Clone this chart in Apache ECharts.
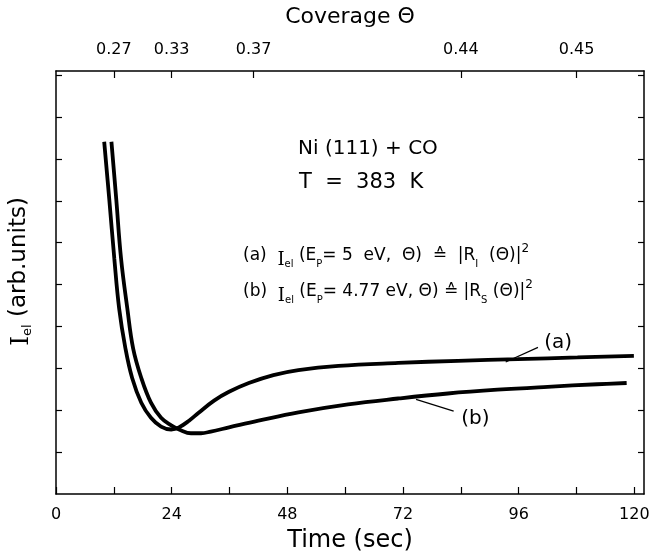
<!DOCTYPE html>
<html>
<head>
<meta charset="utf-8">
<script src="https://cdn.jsdelivr.net/npm/echarts@6/dist/echarts.min.js"></script>
<style>
html,body{margin:0;padding:0;background:#fff;}
#chart{width:653px;height:558px;}
</style>
</head>
<body>
<div id="chart"></div>
<script>
// ---- data ----
var timeA = [10.0, 11.05, 12.1, 13.1, 14.4, 15.8, 17.7, 19.7, 21.8, 23.9, 25.5, 27.6, 29.6, 32.8, 35.9, 40.0, 45.1, 50.3, 58.6, 71.0, 83.4, 95.8, 108.2, 119.9];
var valA  = [8.41, 7.04, 5.62, 4.43, 3.48, 2.77, 2.18, 1.82, 1.61, 1.54, 1.59, 1.75, 1.94, 2.23, 2.44, 2.65, 2.84, 2.96, 3.06, 3.13, 3.18, 3.22, 3.26, 3.30];
var timeB = [11.5, 12.5, 13.5, 14.8, 16.0, 17.7, 19.7, 21.8, 23.9, 25.9, 28.0, 30.1, 32.1, 35.9, 42.0, 50.3, 60.6, 71.0, 81.3, 91.6, 102.0, 112.3, 118.4];
var valB  = [8.41, 7.04, 5.62, 4.43, 3.48, 2.77, 2.18, 1.82, 1.64, 1.52, 1.45, 1.45, 1.49, 1.59, 1.75, 1.95, 2.14, 2.28, 2.40, 2.49, 2.56, 2.62, 2.65];
var timeTicks = [0, 12, 24, 36, 48, 60, 72, 84, 96, 108, 120];
var timeLabels = [0, 24, 48, 72, 96, 120];
var coverageTimes = [12, 24, 41, 84, 108];
var coverageLabels = ['0.27', '0.33', '0.37', '0.44', '0.45'];
var yTicks = [1, 2, 3, 4, 5, 6, 7, 8, 9, 10];
// leader lines for curve labels: [t0, y0, t1, y1], text anchors [t, y]
var leaderA = [93.3, 3.15, 100.0, 3.50];
var leaderB = [74.7, 2.26, 82.5, 1.98];
var labelPosA = [104.2, 3.62];
var labelPosB = [87.0, 1.80];

function pairs(xs, ys){ return xs.map(function(x,i){ return [x, ys[i]]; }); }

var FONT = 'DejaVu Sans';
var chart = echarts.init(document.getElementById('chart'), null, {renderer:'canvas'});
var axisLine = {show:true, onZero:false, lineStyle:{color:'#000', width:1.5}};
var tickStyle = {color:'#000', width:1.2};
var formulaRich = {
  i:{font:'18px "DejaVu Serif"', fill:'#000', verticalAlign:'bottom', lineHeight:23},
  s:{font:'10px "DejaVu Sans"', fill:'#000', verticalAlign:'bottom', lineHeight:18},
  p:{font:'12px "DejaVu Sans"', fill:'#000', verticalAlign:'top', lineHeight:23}
};

var option = {
  backgroundColor:'#fff',
  animation:false,
  textStyle:{fontFamily:FONT},
  grid:{left:56, right:9, top:71, bottom:61, containLabel:false},
  xAxis:[{
    type:'value', position:'bottom', min:0, max:122,
    axisLine:axisLine,
    axisTick:{show:true, inside:true, length:7, lineStyle:tickStyle, customValues:timeTicks},
    axisLabel:{show:true, customValues:timeLabels, color:'#000', fontSize:16, fontFamily:FONT, margin:13},
    splitLine:{show:false},
    name:'Time (sec)', nameLocation:'middle', nameGap:35,
    nameTextStyle:{color:'#000', fontSize:24, fontFamily:FONT}
  },{
    type:'value', position:'top', min:0, max:122,
    axisLine:axisLine,
    axisTick:{show:true, inside:true, length:7, lineStyle:tickStyle, customValues:coverageTimes},
    axisLabel:{show:true, customValues:coverageTimes, color:'#000', fontSize:16, fontFamily:FONT, margin:13,
      formatter:function(v){ var i = coverageTimes.indexOf(v); return i>=0 ? coverageLabels[i] : ''; }},
    splitLine:{show:false},
    name:'Coverage Θ', nameLocation:'middle', nameGap:43,
    nameTextStyle:{color:'#000', fontSize:22, fontFamily:FONT}
  }],
  yAxis:[{
    type:'value', position:'left', min:0, max:10.1,
    axisLine:axisLine,
    axisTick:{show:true, inside:true, length:6, lineStyle:tickStyle, customValues:yTicks},
    axisLabel:{show:false},
    splitLine:{show:false},
    name:'{i|I}{s|el} (arb.units)', nameLocation:'middle', nameRotate:90, nameGap:22,
    nameTextStyle:{color:'#000', fontSize:23, fontFamily:FONT, padding:[0,0,0,22],
      rich:{
        i:{fontSize:25, fontFamily:'DejaVu Serif', color:'#000', verticalAlign:'bottom', lineHeight:29},
        s:{fontSize:13, fontFamily:FONT, color:'#000', verticalAlign:'bottom', lineHeight:24}
      }}
  },{
    type:'value', position:'right', min:0, max:10.1,
    axisLine:axisLine,
    axisTick:{show:true, inside:true, length:6, lineStyle:tickStyle, customValues:yTicks},
    axisLabel:{show:false},
    splitLine:{show:false}
  }],
  series:[{
    name:'(a)', type:'line', xAxisIndex:0, yAxisIndex:0,
    data:pairs(timeA, valA), smooth:0.4, showSymbol:false, symbol:'none',
    lineStyle:{color:'#000', width:3.8},
    markLine:{silent:true, symbol:'none', label:{show:false},
      lineStyle:{color:'#000', width:1.2, type:'solid'},
      data:[[{coord:[leaderA[0], leaderA[1]]},{coord:[leaderA[2], leaderA[3]]}]]},
    markPoint:{silent:true, symbol:'circle', symbolSize:0,
      label:{show:true, position:'inside', color:'#000', fontSize:20, fontFamily:FONT, formatter:'(a)'},
      data:[{coord:labelPosA, value:'(a)'}]}
  },{
    name:'(b)', type:'line', xAxisIndex:0, yAxisIndex:0,
    data:pairs(timeB, valB), smooth:0.4, showSymbol:false, symbol:'none',
    lineStyle:{color:'#000', width:3.8},
    markLine:{silent:true, symbol:'none', label:{show:false},
      lineStyle:{color:'#000', width:1.2, type:'solid'},
      data:[[{coord:[leaderB[0], leaderB[1]]},{coord:[leaderB[2], leaderB[3]]}]]},
    markPoint:{silent:true, symbol:'circle', symbolSize:0,
      label:{show:true, position:'inside', color:'#000', fontSize:20, fontFamily:FONT, formatter:'(b)'},
      data:[{coord:labelPosB, value:'(b)'}]}
  }],
  graphic:[
    {type:'text', left:298, top:139, style:{text:'Ni (111) + CO', fill:'#000', font:'20px "DejaVu Sans"'}},
    {type:'text', left:299, top:172, style:{text:'T  =  383  K', fill:'#000', font:'21px "DejaVu Sans"'}},
    {type:'text', left:243, top:243, style:{
      text:'(a)  {i|I}{s|el} (E{s|P}= 5  eV,  Θ)  ≙  |R{s|I}  (Θ)|{p|2}',
      fill:'#000', font:'17px "DejaVu Sans"', lineHeight:26, rich:formulaRich}},
    {type:'text', left:243, top:279, style:{
      text:'(b)  {i|I}{s|el} (E{s|P}= 4.77 eV, Θ) ≙ |R{s|S} (Θ)|{p|2}',
      fill:'#000', font:'17px "DejaVu Sans"', lineHeight:26, rich:formulaRich}}
  ]
};
chart.setOption(option);
</script>
</body>
</html>
